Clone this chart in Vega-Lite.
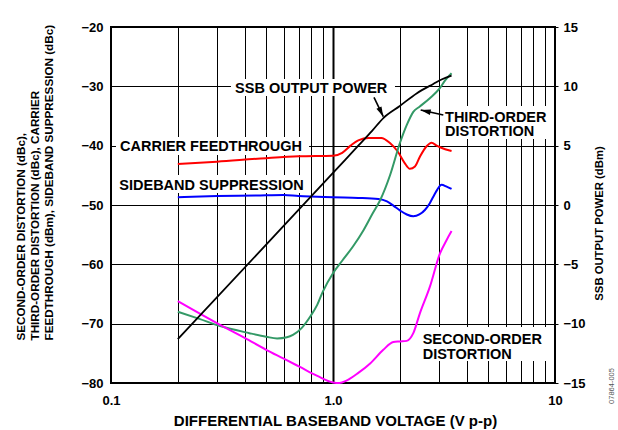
{
  "$schema": "https://vega.github.io/schema/vega-lite/v6.json",
  "width": 444,
  "height": 356,
  "autosize": {"type": "none"},
  "padding": {"left": 111, "top": 27, "right": 63, "bottom": 47},
  "config": {
    "font": "Liberation Sans",
    "view": {"stroke": "#000", "strokeWidth": 2},
    "axis": {
      "labelFont": "Liberation Sans", "labelFontWeight": "bold", "labelFontSize": 13, "labelColor": "#000",
      "titleFont": "Liberation Sans", "titleFontWeight": "bold", "titleColor": "#000",
      "domain": false, "gridColor": "#000", "gridOpacity": 1, "tickColor": "#000"
    }
  },
  "datasets": {
    "curves": [
      {"series": "carrier", "v": 0.2, "db": -43.1},
      {"series": "carrier", "v": 0.3, "db": -42.7},
      {"series": "carrier", "v": 0.5, "db": -42.1},
      {"series": "carrier", "v": 0.7, "db": -41.8},
      {"series": "carrier", "v": 1.0, "db": -41.7},
      {"series": "carrier", "v": 1.1, "db": -41.2},
      {"series": "carrier", "v": 1.2, "db": -40.0},
      {"series": "carrier", "v": 1.3, "db": -39.1},
      {"series": "carrier", "v": 1.45, "db": -38.7},
      {"series": "carrier", "v": 1.65, "db": -38.7},
      {"series": "carrier", "v": 1.8, "db": -39.5},
      {"series": "carrier", "v": 1.95, "db": -40.9},
      {"series": "carrier", "v": 2.1, "db": -42.9},
      {"series": "carrier", "v": 2.22, "db": -43.9},
      {"series": "carrier", "v": 2.34, "db": -43.5},
      {"series": "carrier", "v": 2.46, "db": -41.9},
      {"series": "carrier", "v": 2.64, "db": -40.1},
      {"series": "carrier", "v": 2.78, "db": -39.5},
      {"series": "carrier", "v": 2.93, "db": -40.0},
      {"series": "carrier", "v": 3.2, "db": -40.6},
      {"series": "carrier", "v": 3.42, "db": -40.9},
      {"series": "sideband", "v": 0.2, "db": -48.7},
      {"series": "sideband", "v": 0.3, "db": -48.5},
      {"series": "sideband", "v": 0.45, "db": -48.4},
      {"series": "sideband", "v": 0.6, "db": -48.3},
      {"series": "sideband", "v": 0.7, "db": -48.5},
      {"series": "sideband", "v": 0.85, "db": -48.6},
      {"series": "sideband", "v": 1.0, "db": -48.7},
      {"series": "sideband", "v": 1.3, "db": -48.8},
      {"series": "sideband", "v": 1.6, "db": -49.0},
      {"series": "sideband", "v": 1.75, "db": -49.4},
      {"series": "sideband", "v": 1.87, "db": -50.1},
      {"series": "sideband", "v": 2.0, "db": -50.9},
      {"series": "sideband", "v": 2.15, "db": -51.6},
      {"series": "sideband", "v": 2.3, "db": -51.9},
      {"series": "sideband", "v": 2.45, "db": -51.6},
      {"series": "sideband", "v": 2.6, "db": -50.8},
      {"series": "sideband", "v": 2.73, "db": -49.7},
      {"series": "sideband", "v": 2.83, "db": -48.6},
      {"series": "sideband", "v": 2.95, "db": -47.4},
      {"series": "sideband", "v": 3.08, "db": -46.6},
      {"series": "sideband", "v": 3.25, "db": -46.9},
      {"series": "sideband", "v": 3.42, "db": -47.3},
      {"series": "third", "v": 0.2, "db": -68.0},
      {"series": "third", "v": 0.25, "db": -69.2},
      {"series": "third", "v": 0.31, "db": -70.4},
      {"series": "third", "v": 0.42, "db": -71.6},
      {"series": "third", "v": 0.5, "db": -72.2},
      {"series": "third", "v": 0.56, "db": -72.5},
      {"series": "third", "v": 0.62, "db": -72.3},
      {"series": "third", "v": 0.66, "db": -71.9},
      {"series": "third", "v": 0.72, "db": -70.8},
      {"series": "third", "v": 0.79, "db": -68.8},
      {"series": "third", "v": 0.85, "db": -66.8},
      {"series": "third", "v": 0.9, "db": -64.6},
      {"series": "third", "v": 1.0, "db": -61.5},
      {"series": "third", "v": 1.1, "db": -59.4},
      {"series": "third", "v": 1.23, "db": -57.0},
      {"series": "third", "v": 1.37, "db": -54.3},
      {"series": "third", "v": 1.51, "db": -51.4},
      {"series": "third", "v": 1.63, "db": -49.2},
      {"series": "third", "v": 1.81, "db": -44.9},
      {"series": "third", "v": 2.0, "db": -39.6},
      {"series": "third", "v": 2.15, "db": -36.5},
      {"series": "third", "v": 2.3, "db": -34.3},
      {"series": "third", "v": 2.46, "db": -33.4},
      {"series": "third", "v": 2.73, "db": -32.0},
      {"series": "third", "v": 3.03, "db": -30.3},
      {"series": "third", "v": 3.2, "db": -29.0},
      {"series": "third", "v": 3.42, "db": -27.8},
      {"series": "second", "v": 0.2, "db": -66.2},
      {"series": "second", "v": 0.31, "db": -70.2},
      {"series": "second", "v": 0.4, "db": -72.4},
      {"series": "second", "v": 0.5, "db": -74.4},
      {"series": "second", "v": 0.6, "db": -75.9},
      {"series": "second", "v": 0.71, "db": -77.3},
      {"series": "second", "v": 0.85, "db": -78.8},
      {"series": "second", "v": 1.0, "db": -79.9},
      {"series": "second", "v": 1.07, "db": -80.0},
      {"series": "second", "v": 1.15, "db": -79.6},
      {"series": "second", "v": 1.3, "db": -78.3},
      {"series": "second", "v": 1.47, "db": -76.7},
      {"series": "second", "v": 1.685, "db": -74.4},
      {"series": "second", "v": 1.87, "db": -73.1},
      {"series": "second", "v": 2.0, "db": -73.0},
      {"series": "second", "v": 2.15, "db": -72.9},
      {"series": "second", "v": 2.3, "db": -71.6},
      {"series": "second", "v": 2.46, "db": -68.3},
      {"series": "second", "v": 2.73, "db": -63.8},
      {"series": "second", "v": 3.03, "db": -58.2},
      {"series": "second", "v": 3.25, "db": -55.9},
      {"series": "second", "v": 3.42, "db": -54.4}
    ],
    "power": [
      {"v": 0.2, "dbm": -11.3},
      {"v": 0.5, "dbm": -3.34},
      {"v": 1.0, "dbm": 2.7},
      {"v": 1.3, "dbm": 5.0},
      {"v": 1.5, "dbm": 6.25},
      {"v": 1.69, "dbm": 7.35},
      {"v": 2.0, "dbm": 8.35},
      {"v": 2.38, "dbm": 9.4},
      {"v": 2.83, "dbm": 10.2},
      {"v": 3.1, "dbm": 10.6},
      {"v": 3.42, "dbm": 10.9}
    ],
    "boxes": [
      {"x0": 0.347, "x1": 1.902, "y0": -28.76, "y1": -31.63},
      {"x0": 0.1053, "x1": 0.78, "y0": -38.54, "y1": -41.57},
      {"x0": 0.1053, "x1": 0.78, "y0": -44.94, "y1": -47.98},
      {"x0": 3.065, "x1": 9.495, "y0": -33.32, "y1": -38.88},
      {"x0": 2.466, "x1": 9.2, "y0": -70.56, "y1": -76.29}
    ],
    "labels": [
      {"v": 0.362, "db": -31.07, "text": "SSB OUTPUT POWER"},
      {"v": 0.1098, "db": -40.97, "text": "CARRIER FEEDTHROUGH"},
      {"v": 0.109, "db": -47.42, "text": "SIDEBAND SUPPRESSION"},
      {"v": 3.196, "db": -35.96, "text": "THIRD-ORDER\nDISTORTION"},
      {"v": 2.535, "db": -73.43, "text": "SECOND-ORDER\nDISTORTION"}
    ],
    "arrows": [
      {"name": "ssb", "v0": 1.53, "db0": -31.85, "v1": 1.685, "db1": -35.12},
      {"name": "third", "v0": 3.14, "db0": -34.83, "v1": 2.483, "db1": -33.99}
    ],
    "ids": [
      {"v": 18.06, "db": -80.5, "text": "07864-005"}
    ]
  },
  "layer": [
    {
      "layer": [
        {
          "data": {"name": "curves"},
          "mark": {"type": "line", "strokeWidth": 2, "interpolate": "monotone"},
          "encoding": {
            "x": {
              "field": "v", "type": "quantitative",
              "scale": {"type": "log", "domain": [0.1, 10], "nice": false},
              "axis": {
                "title": "DIFFERENTIAL BASEBAND VOLTAGE (V p-p)",
                "values": [0.1, 0.2, 0.3, 0.4, 0.5, 0.6, 0.7, 0.8, 0.9, 1, 2, 3, 4, 5, 6, 7, 8, 9, 10],
                "labelExpr": "datum.value == 0.1 ? '0.1' : datum.value == 1 ? '1.0' : datum.value == 10 ? '10' : ''",
                "grid": true,
                "gridWidth": {"condition": {"test": "datum.value == 1", "value": 2}, "value": 1},
                "ticks": false, "tickSize": 0,
                "labelPadding": 11, "labelFlush": false, "labelOverlap": false,
                "titleFontSize": 15, "titleX": 224, "titleY": 42,
                "titleAlign": "center", "titleBaseline": "alphabetic"
              }
            },
            "y": {
              "field": "db", "type": "quantitative",
              "scale": {"domain": [-80, -20], "nice": false, "zero": false},
              "axis": {
                "title": ["SECOND-ORDER DISTORTION (dBc),", "THIRD-ORDER DISTORTION (dBc), CARRIER", "FEEDTHROUGH (dBm), SIDEBAND SUPPRESSION (dBc)"],
                "values": [-80, -70, -60, -50, -40, -30, -20],
                "grid": true, "gridWidth": 1,
                "ticks": false, "tickSize": 0, "labelPadding": 8,
                "titleFontSize": 11.7, "titleLineHeight": 14,
                "titleAlign": "left", "titleAngle": 270, "titleBaseline": "alphabetic",
                "titleX": -87, "titleY": 313
              }
            },
            "color": {
              "field": "series", "type": "nominal",
              "scale": {"domain": ["second", "third", "carrier", "sideband"], "range": ["#ff00ff", "#339966", "#ff0000", "#0000ff"]},
              "legend": null
            }
          }
        },
        {
          "data": {"name": "boxes"},
          "mark": {"type": "rect", "fill": "#ffffff", "strokeWidth": 0},
          "encoding": {
            "x": {"field": "x0", "type": "quantitative", "scale": {"type": "log", "domain": [0.1, 10], "nice": false}},
            "x2": {"field": "x1"},
            "y": {"field": "y0", "type": "quantitative", "scale": {"domain": [-80, -20], "nice": false, "zero": false}},
            "y2": {"field": "y1"}
          }
        },
        {
          "data": {"name": "labels"},
          "mark": {"type": "text", "align": "left", "baseline": "alphabetic", "font": "Liberation Sans", "fontWeight": "bold", "fontSize": 14.5, "lineHeight": 14.5, "lineBreak": "\n", "color": "#000"},
          "encoding": {
            "x": {"field": "v", "type": "quantitative", "scale": {"type": "log", "domain": [0.1, 10], "nice": false}},
            "y": {"field": "db", "type": "quantitative", "scale": {"domain": [-80, -20], "nice": false, "zero": false}},
            "text": {"field": "text", "type": "nominal"}
          }
        },
        {
          "data": {"name": "arrows"},
          "mark": {"type": "rule", "strokeWidth": 1.6, "color": "#000"},
          "encoding": {
            "x": {"field": "v0", "type": "quantitative", "scale": {"type": "log", "domain": [0.1, 10], "nice": false}},
            "x2": {"field": "v1"},
            "y": {"field": "db0", "type": "quantitative", "scale": {"domain": [-80, -20], "nice": false, "zero": false}},
            "y2": {"field": "db1"}
          }
        },
        {
          "data": {"name": "arrows"},
          "transform": [{"filter": "datum.name == 'ssb'"}],
          "mark": {"type": "point", "shape": "M0,0L-0.5,1.8L0.5,1.8Z", "filled": true, "color": "#000", "opacity": 1, "size": 125, "angle": 154.4, "strokeWidth": 0},
          "encoding": {
            "x": {"field": "v1", "type": "quantitative", "scale": {"type": "log", "domain": [0.1, 10], "nice": false}},
            "y": {"field": "db1", "type": "quantitative", "scale": {"domain": [-80, -20], "nice": false, "zero": false}}
          }
        },
        {
          "data": {"name": "arrows"},
          "transform": [{"filter": "datum.name == 'third'"}],
          "mark": {"type": "point", "shape": "M0,0L-0.5,1.8L0.5,1.8Z", "filled": true, "color": "#000", "opacity": 1, "size": 125, "angle": 282.5, "strokeWidth": 0},
          "encoding": {
            "x": {"field": "v1", "type": "quantitative", "scale": {"type": "log", "domain": [0.1, 10], "nice": false}},
            "y": {"field": "db1", "type": "quantitative", "scale": {"domain": [-80, -20], "nice": false, "zero": false}}
          }
        },
        {
          "data": {"name": "ids"},
          "mark": {"type": "text", "align": "center", "baseline": "middle", "angle": 270, "font": "Liberation Sans", "fontSize": 7.5, "color": "#555555"},
          "encoding": {
            "x": {"field": "v", "type": "quantitative", "scale": {"type": "log", "domain": [0.1, 10], "nice": false}},
            "y": {"field": "db", "type": "quantitative", "scale": {"domain": [-80, -20], "nice": false, "zero": false}},
            "text": {"field": "text", "type": "nominal"}
          }
        }
      ]
    },
    {
      "data": {"name": "power"},
      "mark": {"type": "line", "strokeWidth": 1.8, "color": "#000", "interpolate": "monotone"},
      "encoding": {
        "x": {"field": "v", "type": "quantitative", "scale": {"type": "log", "domain": [0.1, 10], "nice": false}},
        "y": {
          "field": "dbm", "type": "quantitative",
          "scale": {"domain": [-15, 15], "nice": false, "zero": false},
          "axis": {
            "orient": "right",
            "title": "SSB OUTPUT POWER (dBm)",
            "values": [-15, -10, -5, 0, 5, 10, 15],
            "grid": false, "ticks": true, "tickSize": 3, "tickWidth": 1,
            "labelPadding": 5,
            "titleFontSize": 11.3, "titleAngle": 270, "titleAlign": "center", "titleBaseline": "alphabetic",
            "titleX": 47, "titleY": 196
          }
        }
      }
    }
  ],
  "resolve": {"scale": {"y": "independent"}}
}
